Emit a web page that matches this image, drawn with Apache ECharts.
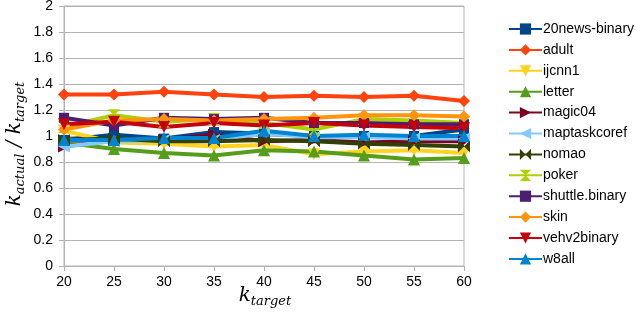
<!DOCTYPE html>
<html><head><meta charset="utf-8">
<script src="https://cdn.jsdelivr.net/npm/echarts@6/dist/echarts.min.js"></script>
<style>html,body{margin:0;padding:0;background:#fff}#c{width:636px;height:314px}</style>
</head><body><div id="c"></div>
<script>
const kTarget = [20, 25, 30, 35, 40, 45, 50, 55, 60];
const news20 = [0.97, 1.01, 0.98, 1.03, 1.02, 1.00, 1.00, 1.00, 1.05];
const adult = [1.32, 1.32, 1.34, 1.32, 1.30, 1.31, 1.30, 1.31, 1.27];
const ijcnn1 = [1.04, 0.95, 0.94, 0.92, 0.93, 0.86, 0.88, 0.89, 0.87];
const letter = [0.95, 0.90, 0.87, 0.85, 0.89, 0.88, 0.85, 0.82, 0.83];
const magic04 = [0.92, 0.97, 0.97, 1.01, 0.96, 0.97, 0.95, 0.96, 0.96];
const maptaskcoref = [0.92, 0.96, 0.97, 0.97, 1.02, 0.99, 0.99, 0.98, 0.98];
const nomao = [0.97, 0.98, 0.96, 0.96, 0.97, 0.96, 0.94, 0.93, 0.92];
const poker = [1.07, 1.16, 1.11, 1.13, 1.10, 1.05, 1.13, 1.12, 1.10];
const shuttle = [1.14, 1.08, 1.14, 1.13, 1.14, 1.10, 1.10, 1.09, 1.09];
const skin = [1.05, 1.12, 1.13, 1.12, 1.13, 1.14, 1.16, 1.16, 1.15];
const vehv2binary = [1.09, 1.11, 1.07, 1.10, 1.08, 1.10, 1.08, 1.07, 1.06];
const w8all = [0.97, 0.97, 0.985, 0.985, 1.04, 1.00, 1.01, 1.00, 1.00];

const bow = 'path://M0,0 L10,5 L0,10 Z M20,0 L20,10 L10,5 Z';
const defs = [
  ['20news-binary', news20, '#004586', 'rect', 0],
  ['adult', adult, '#ff420e', 'diamond', 0],
  ['ijcnn1', ijcnn1, '#ffd320', 'triangle', 180],
  ['letter', letter, '#579d1c', 'triangle', 0],
  ['magic04', magic04, '#7e0021', 'triangle', -90],
  ['maptaskcoref', maptaskcoref, '#83caff', 'triangle', 90],
  ['nomao', nomao, '#314004', bow, 0],
  ['poker', poker, '#aecf00', bow, 90],
  ['shuttle.binary', shuttle, '#4b1f6f', 'rect', 0],
  ['skin', skin, '#ff950e', 'diamond', 0],
  ['vehv2binary', vehv2binary, '#c5000b', 'triangle', 180],
  ['w8all', w8all, '#0084d1', 'triangle', 0]
];

const series = defs.map(d => ({
  name: d[0], type: 'line',
  data: kTarget.map((x, i) => [x, d[1][i]]),
  symbol: d[3], symbolRotate: d[4],
  symbolSize: d[3] === 'rect' ? 10 : 12,
  showAllSymbol: true,
  lineStyle: {color: d[2], width: 4},
  itemStyle: {color: d[2]},
  animation: false
}));

const rich = {
  k: {fontFamily: 'DejaVu Serif', fontStyle: 'italic', fontSize: 20, lineHeight: 22, fill: '#000', verticalAlign: 'top'},
  s: {fontFamily: 'DejaVu Serif', fontStyle: 'italic', fontSize: 13, lineHeight: 14, fill: '#000', verticalAlign: 'top', padding: [9,0,0,0]}
};
const chart = echarts.init(document.getElementById('c'), null, {renderer: 'canvas'});
const font = 'Liberation Sans';
chart.setOption({
  animation: false,
  grid: {left: 64, top: 6, width: 400, height: 260, containLabel: false, outerBoundsMode: 'none',
         show: true, borderColor: '#b3b3b3', borderWidth: 1},
  xAxis: {
    type: 'value', min: 20, max: 60, interval: 5,
    axisLine: {lineStyle: {color: '#b3b3b3'}},
    axisTick: {show: true, length: 5, lineStyle: {color: '#b3b3b3'}},
    axisLabel: {color: '#000', fontFamily: font, fontSize: 14, margin: 9},
    splitLine: {show: false}
  },
  yAxis: {
    type: 'value', min: 0, max: 2, interval: 0.2,
    axisLine: {show: true, lineStyle: {color: '#b3b3b3'}},
    axisTick: {show: true, length: 5, lineStyle: {color: '#b3b3b3'}},
    axisLabel: {color: '#000', fontFamily: font, fontSize: 14, margin: 11},
    splitLine: {show: true, lineStyle: {color: '#b3b3b3'}}
  },
  graphic: [
    {type: 'text', x: 265, y: 297, style: {text: '{k|k}{s|target}', rich: rich, align: 'center', verticalAlign: 'middle'}},
    {type: 'text', x: 16, y: 144, rotation: Math.PI / 2, style: {text: '{k|k}{s|actual}{k| / k}{s|target}', rich: rich, align: 'center', verticalAlign: 'middle'}}
  ],
  legend: {
    orient: 'vertical', left: 503, top: 17, itemGap: 6.9, itemWidth: 33, itemHeight: 14,
    textStyle: {color: '#000', fontFamily: font, fontSize: 14, padding: [0,0,0,-4]},
    data: defs.map(d => d[0])
  },
  series: series
});
</script></body></html>
